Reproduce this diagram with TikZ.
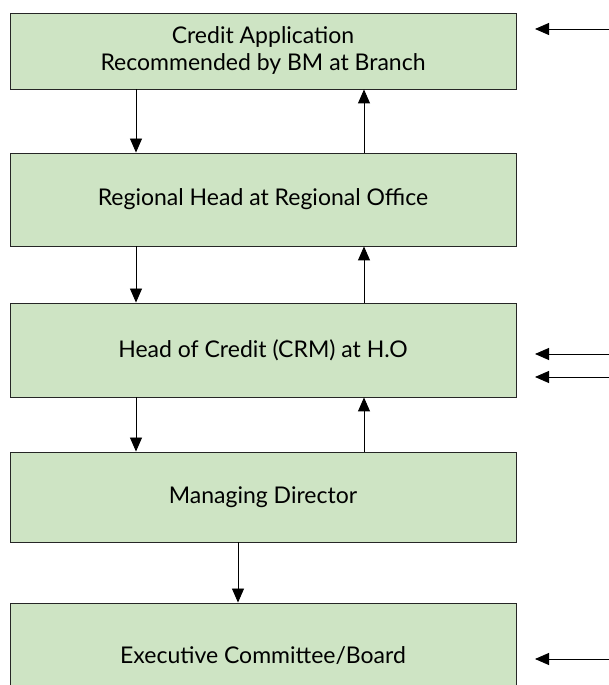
\documentclass[tikz,border=0pt]{standalone}
\usepackage{fontspec}
\setmainfont{Lato}
\usetikzlibrary{arrows.meta}
\definecolor{boxgreen}{RGB}{206,228,196}

\begin{document}
\begin{tikzpicture}[
        x=1pt, y=1pt,
        stage/.style={
            draw=black!85,
            fill=boxgreen,
            line width=0.9pt,
            minimum width=506pt,
            inner sep=0pt,
            align=center,
            font=\fontsize{23}{27}\selectfont
        },
        flow/.style={-{Triangle[length=14pt,width=12pt]}, line width=0.9pt}
    ]
    \clip (0,0) rectangle (609,685);

    % Stages
    \node[stage, minimum height=76pt] (bm)  at (263,634) {Credit Application\\Recommended by BM at Branch};
    \node[stage, minimum height=93pt] (rh)  at (263,485.5) {Regional Head at Regional Office};
    \node[stage, minimum height=94pt] (crm) at (263,335) {Head of Credit (CRM) at H.O};
    \node[stage, minimum height=90pt] (md)  at (263,188) {Managing Director};
    \node[stage, minimum height=106pt] (ec) at (263,29) {Executive Committee/Board};

    % Down and up
    \draw[flow] ([xshift=-127pt]bm.south)  -- ([xshift=-127pt]rh.north);
    \draw[flow] ([xshift=101pt]rh.north)   -- ([xshift=101pt]bm.south);
    \draw[flow] ([xshift=-127pt]rh.south)  -- ([xshift=-127pt]crm.north);
    \draw[flow] ([xshift=101pt]crm.north)  -- ([xshift=101pt]rh.south);
    \draw[flow] ([xshift=-127pt]crm.south) -- ([xshift=-127pt]md.north);
    \draw[flow] ([xshift=101pt]md.north)   -- ([xshift=101pt]crm.south);
    \draw[flow] ([xshift=-25pt]md.south)   -- ([xshift=-25pt]ec.north);

    % Inputs from the right
    \coordinate (in1) at (609,656);  \coordinate (to1) at (535,656);
    \coordinate (in2) at (609,331);  \coordinate (to2) at (535,331);
    \coordinate (in3) at (609,308);  \coordinate (to3) at (535,308);
    \coordinate (in4) at (609,26);   \coordinate (to4) at (535,26);
    \draw[flow] (in1) -- (to1);
    \draw[flow] (in2) -- (to2);
    \draw[flow] (in3) -- (to3);
    \draw[flow] (in4) -- (to4);

\end{tikzpicture}
\end{document}
